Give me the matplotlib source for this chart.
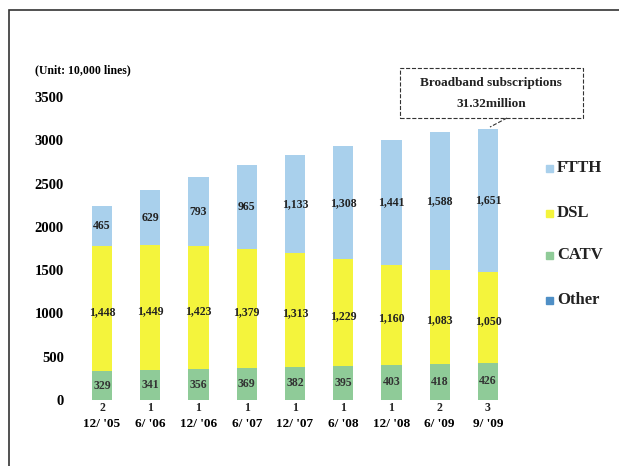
import matplotlib
matplotlib.use("Agg")
import matplotlib.pyplot as plt
from matplotlib.patches import Rectangle
from matplotlib.lines import Line2D
import numpy as np

categories = ["12/ '05", "6/ '06", "12/ '06", "6/ '07", "12/ '07", "6/ '08", "12/ '08", "6/ '09", "9/ '09"]
other = [2, 1, 1, 1, 1, 1, 1, 2, 3]
catv = [329, 341, 356, 369, 382, 395, 403, 418, 426]
dsl = [1448, 1449, 1423, 1379, 1313, 1229, 1160, 1083, 1050]
ftth = [465, 629, 793, 965, 1133, 1308, 1441, 1588, 1651]
yticks = [0, 500, 1000, 1500, 2000, 2500, 3000, 3500]

plt.rcParams['font.family'] = ['Liberation Serif', 'DejaVu Serif']
plt.rcParams['font.weight'] = 'bold'

W, H = 619, 466
fig = plt.figure(figsize=(W / 100, H / 100), dpi=100)
fig.patch.set_facecolor('white')

def fx(px):
    return px / W

def fy(py):
    return 1 - py / H

# outer frame
fig.add_artist(Rectangle((fx(9), -0.05), 1.2, fy(10) + 0.05, transform=fig.transFigure,
                         fill=False, edgecolor='#333333', linewidth=1.2))

ax = fig.add_axes([fx(75), 66 / H, 440 / W, 303 / H])
x = np.arange(len(categories))
w = 0.42

c_other = '#4f8fc6'
c_catv = '#8fcb98'
c_dsl = '#f4f43c'
c_ftth = '#a9d0ec'

b_other = np.array(other)
b_catv = b_other + np.array(catv)
b_dsl = b_catv + np.array(dsl)
total = b_dsl + np.array(ftth)

ax.bar(x, other, w, color=c_other, label='Other')
ax.bar(x, catv, w, bottom=b_other, color=c_catv, label='CATV')
ax.bar(x, dsl, w, bottom=b_catv, color=c_dsl, label='DSL')
ax.bar(x, ftth, w, bottom=b_dsl, color=c_ftth, label='FTTH')

fs = 8.5
for i in x:
    ax.text(i, -20, f"{other[i]}", ha='center', va='top', fontsize=fs, color='#222222', clip_on=False)
    ax.text(i, b_other[i] + catv[i] / 2, f"{catv[i]:,}", ha='center', va='center', fontsize=fs, color='#333333')
    ax.text(i, b_catv[i] + dsl[i] / 2 - 40, f"{dsl[i]:,}", ha='center', va='center', fontsize=fs, color='#222222')
    ax.text(i, b_dsl[i] + ftth[i] / 2, f"{ftth[i]:,}", ha='center', va='center', fontsize=fs, color='#222222')

ax.set_xlim(-0.56, 8.56)
ax.set_ylim(0, 3500)
ax.set_yticks(yticks)
ax.set_yticklabels([str(v) for v in yticks], fontsize=10.5, fontweight='bold')
ax.set_xticks(x)
ax.set_xticklabels(categories, fontsize=9.5, fontweight='bold')
ax.tick_params(axis='both', length=0)
ax.tick_params(axis='y', pad=8)
ax.tick_params(axis='x', pad=13)
for s in ax.spines.values():
    s.set_visible(False)

fig.text(fx(35), fy(70), "(Unit: 10,000 lines)", fontsize=8.5, fontweight='bold', va='center', ha='left')

# annotation box
fig.add_artist(Rectangle((fx(400), fy(118)), 183 / W, 50 / H, transform=fig.transFigure,
                         fill=False, edgecolor='#333333', linestyle='--', linewidth=0.8))
fig.text(fx(491), fy(83), "Broadband subscriptions", fontsize=9.5, fontweight='bold',
         ha='center', va='center', color='#222222')
fig.text(fx(491), fy(104), "31.32million", fontsize=9.5, fontweight='bold',
         ha='center', va='center', color='#222222')
top_px = 400 - total[-1] * (303 / 3500)
fig.add_artist(Line2D([fx(507), fx(490)], [fy(118), fy(top_px - 2)], transform=fig.transFigure,
                      color='#333333', linestyle='--', linewidth=0.8))

# legend
leg_items = [('FTTH', c_ftth, 168), ('DSL', c_dsl, 213), ('CATV', c_catv, 255), ('Other', c_other, 300)]
for name, col, yp in leg_items:
    fig.add_artist(Rectangle((fx(546), fy(yp + 4)), 7 / W, 7 / H, transform=fig.transFigure,
                             color=col))
    fig.text(fx(557), fy(yp), name, fontsize=12, fontweight='bold', va='center', ha='left',
             color='#222222')

fig.savefig('out.png', dpi=100)
